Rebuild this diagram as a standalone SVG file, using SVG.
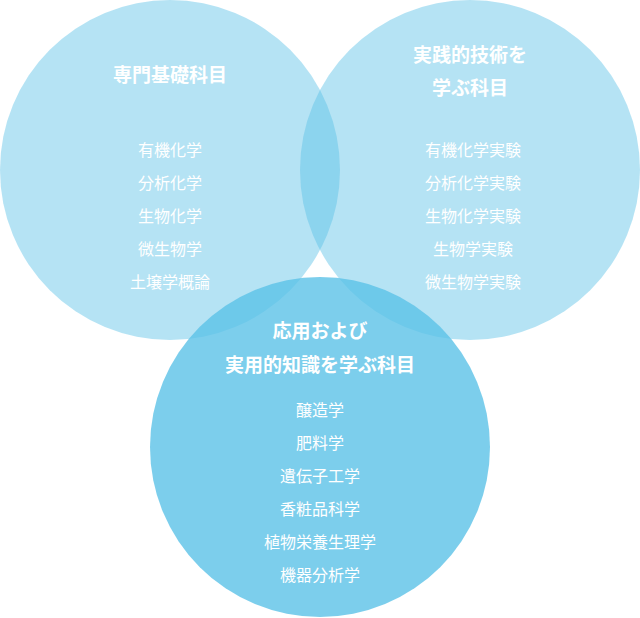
<svg xmlns="http://www.w3.org/2000/svg" width="640" height="618" viewBox="0 0 640 618">
<style>
text{font-family:"Noto Sans CJK JP",sans-serif;fill:#fff;text-anchor:middle}
.t{font-size:19px;font-weight:bold}
.i{font-size:16px}
.c{fill:#5bc2e7}
</style>
<g id="basic"><circle class="c" cx="170" cy="170" r="170" fill-opacity="0.45"/>
<text class="t" x="170" y="82">専門基礎科目</text>
<text class="i" x="170" y="156">有機化学</text><text class="i" x="170" y="189">分析化学</text><text class="i" x="170" y="222">生物化学</text><text class="i" x="170" y="255">微生物学</text><text class="i" x="170" y="288">土壌学概論</text></g>
<g id="practical"><circle class="c" cx="470" cy="170" r="170" fill-opacity="0.45"/>
<text class="t" x="470" y="62">実践的技術を</text><text class="t" x="470" y="95">学ぶ科目</text>
<text class="i" x="473" y="156">有機化学実験</text><text class="i" x="473" y="189">分析化学実験</text><text class="i" x="473" y="222">生物化学実験</text><text class="i" x="473" y="255">生物学実験</text><text class="i" x="473" y="288">微生物学実験</text></g>
<g id="applied"><circle class="c" cx="320" cy="447" r="170" fill-opacity="0.8"/>
<text class="t" x="320" y="338">応用および</text><text class="t" x="320" y="372">実用的知識を学ぶ科目</text>
<text class="i" x="320" y="416">醸造学</text><text class="i" x="320" y="449">肥料学</text><text class="i" x="320" y="482">遺伝子工学</text><text class="i" x="320" y="515">香粧品科学</text><text class="i" x="320" y="548">植物栄養生理学</text><text class="i" x="320" y="581">機器分析学</text></g>
<g id="connectors"/>
</svg>
